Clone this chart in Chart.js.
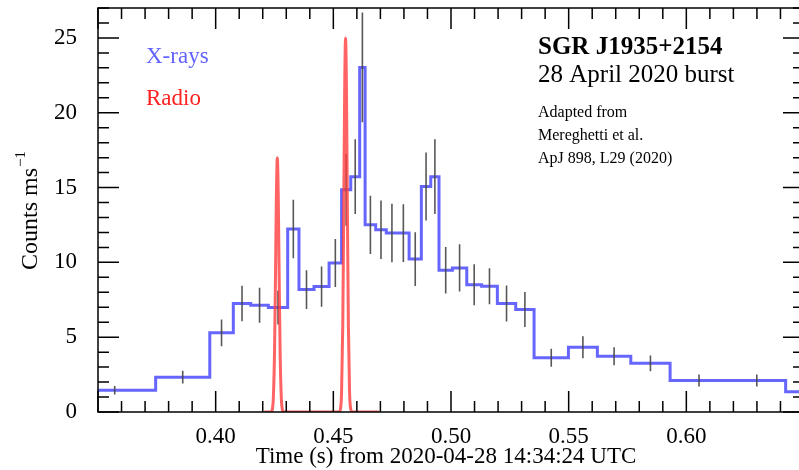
<!DOCTYPE html>
<html>
<head>
<meta charset="utf-8">
<script src="https://cdn.jsdelivr.net/npm/chart.js@4.4.0/dist/chart.umd.min.js"></script>
<style>
  html, body { margin: 0; padding: 0; background: #fff; overflow: hidden; }
  #wrap { position: absolute; left: 0; top: 0; width: 806px; height: 470px; }
</style>
</head>
<body>
<div id="wrap"><canvas id="myChart" width="806" height="470"></canvas></div>
<script>
// X-ray light curve: variable width bins, edges in s
const binEdges = [0.3397, 0.3745, 0.3975, 0.4075, 0.4149, 0.4224, 0.4306, 0.4354, 0.4418, 0.4482,
  0.4535, 0.4574, 0.4612, 0.4635, 0.4680, 0.4725, 0.4773, 0.4822, 0.4874, 0.4914,
  0.4949, 0.5006, 0.5067, 0.5130, 0.5197, 0.5275, 0.5353, 0.5499, 0.5622, 0.5764,
  0.5931, 0.6177, 0.6422, 0.6700];
const xrayRate = [1.45, 2.33, 5.29, 7.25, 7.13, 6.98, 12.23, 8.18, 8.38, 9.96,
  14.85, 15.73, 23.03, 12.51, 12.18, 11.96, 11.96, 10.22, 15.07, 15.73,
  9.47, 9.63, 8.51, 8.40, 7.25, 6.85, 3.62, 4.33, 3.73, 3.25,
  2.11, 2.11, 1.36];
const xrayErr = [0.28, 0.42, 0.89, 1.19, 1.17, 1.13, 1.95, 1.3, 1.35, 1.6,
  2.4, 2.5, 3.67, 1.95, 1.95, 1.95, 1.93, 1.8, 2.27, 2.5,
  1.55, 1.58, 1.37, 1.2, 1.2, 1.17, 0.6, 0.73, 0.6, 0.53,
  0.4, 0.4, 0.3];

// Radio profile (arbitrary scaling)
const radioTime = [0.4207, 0.4232, 0.4236, 0.4241, 0.4245, 0.4250, 0.4254, 0.4258, 0.4262,
  0.4266, 0.4270, 0.4274, 0.4279, 0.4283, 0.4288, 0.4292,
  0.4522, 0.4526, 0.4531, 0.4535, 0.4540, 0.4544, 0.4548, 0.4552,
  0.4556, 0.4560, 0.4564, 0.4569, 0.4573, 0.4578, 0.4582, 0.4694];
const radioFlux = [0, 0, 0.02, 0.19, 0.9, 3.9, 8.8, 14.4, 17,
  14.4, 8.8, 3.9, 0.9, 0.19, 0.02, 0,
  0, 0.03, 0.28, 1.3, 5.75, 13, 21.2, 25,
  21.2, 13, 5.75, 1.3, 0.28, 0.03, 0, 0];

const xTickLabels = ['0.40', '0.45', '0.50', '0.55', '0.60'];
const yTickLabels = ['0', '5', '10', '15', '20', '25'];

const serif = '"Liberation Serif", "Times New Roman", serif';

// histogram points (stepped line)
const xrayPoints = xrayRate.map((v, i) => ({x: binEdges[i], y: v}));
xrayPoints.push({x: binEdges[binEdges.length - 1], y: xrayRate[xrayRate.length - 1]});

// error bars as broken line segments at bin centres
const errPoints = [];
xrayRate.forEach((v, i) => {
  const c = (binEdges[i] + binEdges[i + 1]) / 2;
  errPoints.push({x: c, y: v - xrayErr[i]}, {x: c, y: v + xrayErr[i]}, {x: c, y: null});
});

const radioPoints = radioTime.map((t, i) => ({x: t, y: radioFlux[i]}));

// frame, inward ticks and text
const decorations = {
  id: 'decorations',
  afterDatasetsDraw(chart) {
    const {ctx, chartArea: a, scales: {x, y}} = chart;
    ctx.save();
    ctx.strokeStyle = '#000';
    ctx.lineWidth = 1.5;
    ctx.strokeRect(a.left, a.top, a.right - a.left, a.bottom - a.top);
    ctx.beginPath();
    for (let k = 35; k <= 65; k++) {
      const px = x.getPixelForValue(k / 100);
      const len = k % 5 === 0 ? 21 : 11;
      ctx.moveTo(px, a.bottom); ctx.lineTo(px, a.bottom - len);
      ctx.moveTo(px, a.top); ctx.lineTo(px, a.top + len);
    }
    for (let k = 0; k <= 27; k++) {
      const py = y.getPixelForValue(k);
      const len = k % 5 === 0 ? 21 : 11;
      ctx.moveTo(a.left, py); ctx.lineTo(a.left + len, py);
      ctx.moveTo(a.right, py); ctx.lineTo(a.right - len, py);
    }
    ctx.stroke();

    ctx.textBaseline = 'alphabetic';
    ctx.textAlign = 'left';
    ctx.font = '23px ' + serif;
    ctx.fillStyle = '#6464ff';
    ctx.fillText('X-rays', 146, 63);
    ctx.fillStyle = '#ff2020';
    ctx.fillText('Radio', 146, 105);

    ctx.fillStyle = '#000';
    ctx.font = 'bold 25px ' + serif;
    ctx.fillText('SGR J1935+2154', 538, 54);
    ctx.font = '25px ' + serif;
    ctx.fillText('28 April 2020 burst', 538, 82);
    ctx.font = '16px ' + serif;
    ctx.fillText('Adapted from', 538, 116.5);
    ctx.fillText('Mereghetti et al.', 538, 139.5);
    ctx.fillText('ApJ 898, L29 (2020)', 538, 162.5);

    // axis titles
    ctx.font = '23px ' + serif;
    ctx.textAlign = 'center';
    ctx.fillText('Time (s) from 2020-04-28 14:34:24 UTC', 446, 463);

    ctx.translate(36.5, 211);
    ctx.rotate(-Math.PI / 2);
    ctx.font = '24px ' + serif;
    const main = 'Counts ms';
    const w1 = ctx.measureText(main).width;
    ctx.font = '15px ' + serif;
    const sup = '\u22121';
    const w2 = ctx.measureText(sup).width;
    const start = -(w1 + w2) / 2;
    ctx.textAlign = 'left';
    ctx.font = '24px ' + serif;
    ctx.fillText(main, start, 0);
    ctx.font = '15px ' + serif;
    ctx.fillText(sup, start + w1 + 1, -12);
    ctx.restore();
  }
};

const noPad = s => {
  s.paddingTop = 0; s.paddingBottom = 0;
  s.paddingLeft = 0; s.paddingRight = 0;
};

const config = {
  type: 'line',
  data: {
    datasets: [
      {
        label: 'Radio',
        data: radioPoints,
        borderColor: 'rgba(255, 60, 60, 0.8)',
        borderWidth: 3,
        pointRadius: 0,
        cubicInterpolationMode: 'monotone',
        order: 1
      },
      {
        label: 'errors',
        data: errPoints,
        borderColor: 'rgba(70, 70, 70, 0.9)',
        borderWidth: 1.6,
        pointRadius: 0,
        spanGaps: false,
        order: 2
      },
      {
        label: 'X-rays',
        data: xrayPoints,
        borderColor: 'rgba(75, 75, 255, 0.85)',
        borderWidth: 3,
        pointRadius: 0,
        stepped: 'before',
        order: 3
      }
    ]
  },
  options: {
    responsive: false,
    animation: false,
    devicePixelRatio: 1,
    layout: { padding: { top: 8, right: 2, left: 0, bottom: 0 } },
    plugins: {
      legend: { display: false },
      tooltip: { enabled: false }
    },
    scales: {
      x: {
        type: 'linear',
        min: 0.35,
        max: 0.65,
        grid: { display: false, drawTicks: false },
        border: { display: false },
        ticks: {
          stepSize: 0.05,
          padding: 11,
          maxRotation: 0,
          autoSkip: false,
          color: '#000',
          font: { family: serif, size: 23 },
          callback: v => xTickLabels.includes(v.toFixed(2)) ? v.toFixed(2) : ''
        },
        afterFit: s => { s.height = 58; noPad(s); }
      },
      y: {
        min: 0,
        max: 27,
        grid: { display: false, drawTicks: false },
        border: { display: false },
        ticks: {
          stepSize: 5,
          padding: 21,
          autoSkip: false,
          color: '#000',
          font: { family: serif, size: 23 },
          callback: v => yTickLabels.includes(String(v)) ? String(v) : ''
        },
        afterFit: s => { s.width = 98; noPad(s); }
      }
    }
  },
  plugins: [decorations]
};

const myChart = new Chart(document.getElementById('myChart'), config);
</script>
</body>
</html>
